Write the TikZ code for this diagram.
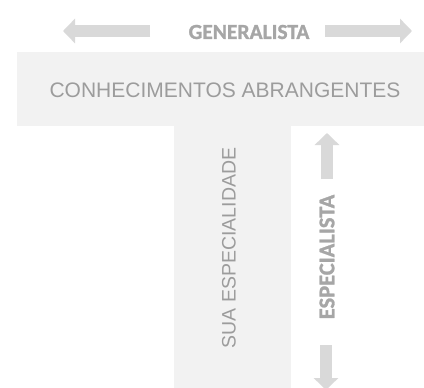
\documentclass[tikz,border=0pt]{standalone}
\usepackage{fontspec}
\setmainfont{Liberation Sans}
\newfontfamily\calib[BoldFeatures={FakeBold=1.2}]{Carlito}
\usetikzlibrary{arrows.meta}
\definecolor{barfill}{HTML}{F2F2F2}
\definecolor{arrowgray}{HTML}{D9D9D9}
\definecolor{textgray}{HTML}{9C9C9C}
\definecolor{boldgray}{HTML}{A6A6A6}
\tikzset{
  bar/.style={fill=barfill, draw=none},
  bigarrow/.style={draw=arrowgray, line width=12pt, -{Triangle[width=24pt,length=12pt]}},
  plaintext/.style={text=textgray, inner sep=0pt, font=\fontsize{21}{21}\selectfont},
  boldtext/.style={text=boldgray, inner sep=0pt, font=\calib\bfseries\fontsize{21.5}{21.5}\selectfont},
}
\begin{document}
\begin{tikzpicture}[x=1pt,y=-1pt]
\useasboundingbox (0,0) rectangle (424,388);
\clip (0,0) rectangle (424,388);
\fill[white] (0,0) rectangle (424,388);
% bars
\path[bar] (17,52) rectangle (424,126);
\path[bar] (174,126) rectangle (291,388);
% texts
\node[plaintext] (conh) at (225,90) {CONHECIMENTOS ABRANGENTES};
\node[plaintext, rotate=90, font=\fontsize{19.5}{19.5}\selectfont] (sua) at (229,248) {SUA ESPECIALIDADE};
\node[boldtext] (gen) at (249,32) {GENERALISTA};
\node[boldtext, rotate=90, font=\calib\bfseries\fontsize{22.5}{22.5}\selectfont] (esp) at (327,257) {ESPECIALISTA};
% arrows
\coordinate (l0) at (150,31);
\coordinate (l1) at (63,31);
\coordinate (r0) at (325,31);
\coordinate (r1) at (412,31);
\coordinate (u0) at (327,179);
\coordinate (u1) at (327,133);
\coordinate (d0) at (326,345);
\coordinate (d1) at (326,390);
\draw[bigarrow] (l0) -- (l1);
\draw[bigarrow] (r0) -- (r1);
\draw[bigarrow] (u0) -- (u1);
\draw[bigarrow] (d0) -- (d1);
\end{tikzpicture}
\end{document}
